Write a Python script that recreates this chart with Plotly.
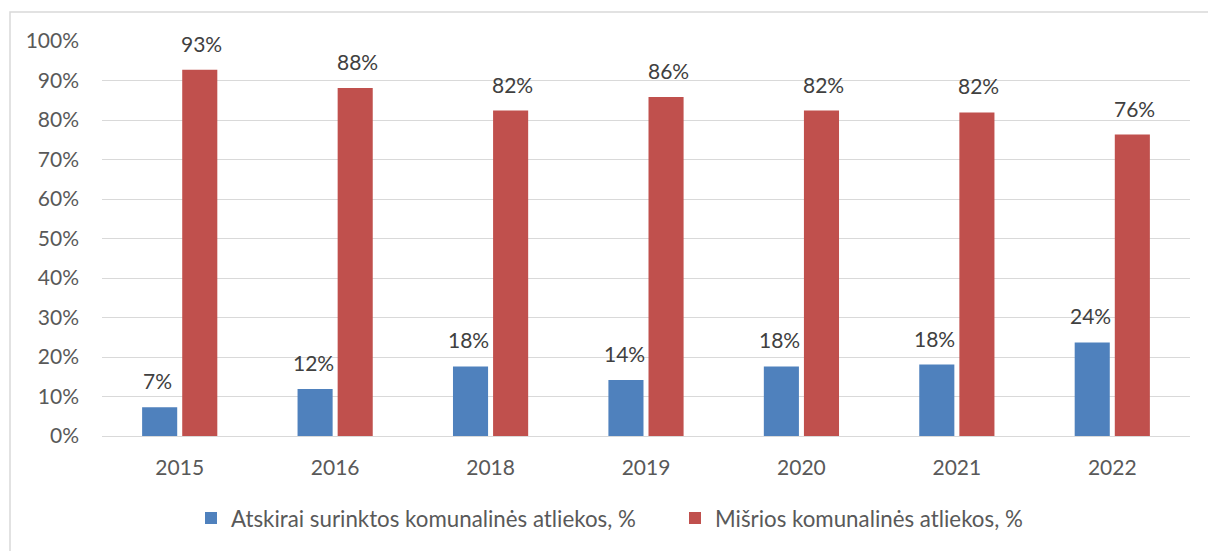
import plotly.graph_objects as go

years = ["2015", "2016", "2018", "2019", "2020", "2021", "2022"]
separate = [7.3, 11.9, 17.6, 14.2, 17.6, 18.1, 23.7]
mixed = [92.7, 88.1, 82.4, 85.8, 82.4, 81.9, 76.3]
separate_labels = ["7%", "12%", "18%", "14%", "18%", "18%", "24%"]
mixed_labels = ["93%", "88%", "82%", "86%", "82%", "82%", "76%"]
name_sep = "Atskirai surinktos komunalinės atliekos, %"
name_mix = "Mišrios komunalinės atliekos, %"
ytick_vals = [0, 10, 20, 30, 40, 50, 60, 70, 80, 90, 100]
ytick_text = ["0%", "10%", "20%", "30%", "40%", "50%", "60%", "70%", "80%", "90%", "100%"]

FONT = "Lato, 'Open Sans', sans-serif"
BLUE = "#4f81bd"
RED = "#c0504d"

fig = go.Figure()
fig.add_trace(go.Bar(x=years, y=separate, name=name_sep, marker=dict(color=BLUE, line=dict(width=0))))
fig.add_trace(go.Bar(x=years, y=mixed, name=name_mix, marker=dict(color=RED, line=dict(width=0))))

ann = []
for i in range(len(years)):
    ann.append(dict(x=i, y=separate[i], text=separate_labels[i], xref="x", yref="y",
                    showarrow=False, yanchor="bottom", xshift=-22, yshift=12,
                    font=dict(family=FONT, size=21, color="#404040")))
    ann.append(dict(x=i, y=mixed[i], text=mixed_labels[i], xref="x", yref="y",
                    showarrow=False, yanchor="bottom", xshift=22, yshift=12,
                    font=dict(family=FONT, size=21, color="#404040")))

W, H = 1208, 551
L, R, T, B = 102, 18, 41, 115
pw, ph = W - L - R, H - T - B

fig.update_layout(
    width=W, height=H,
    margin=dict(l=L, r=R, t=T, b=B, pad=0),
    paper_bgcolor="white", plot_bgcolor="white",
    barmode="group", bargap=0.484, bargroupgap=0.125,
    font=dict(family=FONT, size=21, color="#595959"),
    showlegend=True,
    legend=dict(orientation="h", x=(191 - L) / pw, xanchor="left", y=-(518 - 436) / ph, yanchor="middle",
                font=dict(family=FONT, size=22.3, color="#595959"),
                itemwidth=30, traceorder="normal", entrywidth=439),
    annotations=ann,
    shapes=[dict(type="rect", xref="paper", yref="paper",
                 x0=(10 - L) / pw, x1=1.2, y0=-0.5, y1=(T + ph - 12) / ph,
                 line=dict(color="#d9d9d9", width=1.5), fillcolor="rgba(0,0,0,0)", layer="below")],
)
fig.update_xaxes(type="category", range=[-0.5, len(years) - 0.5], autorange=False,
                 showgrid=False, showline=False, zeroline=False, ticks="",
                 tickfont=dict(family=FONT, size=21, color="#595959"), ticklabelstandoff=17)
fig.update_yaxes(range=[0, 100], autorange=False, tickvals=ytick_vals, ticktext=ytick_text,
                 showgrid=True, gridcolor="#d9d9d9", gridwidth=1.3,
                 zeroline=True, zerolinecolor="#d9d9d9", zerolinewidth=1.3,
                 showline=False, ticks="", ticklabelstandoff=22,
                 tickfont=dict(family=FONT, size=21, color="#595959"))

fig.write_html("out.html", config={"displayModeBar": False},
               post_script="document.body.style.margin='0';document.body.style.overflow='hidden';")
